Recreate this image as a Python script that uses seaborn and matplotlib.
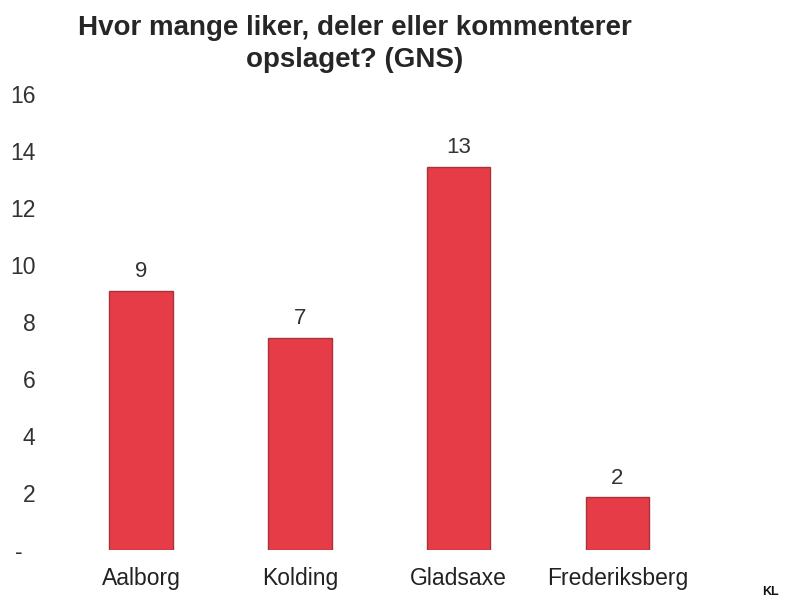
import matplotlib
matplotlib.use("Agg")
import matplotlib.pyplot as plt
import seaborn as sns
import pandas as pd

categories = ["Aalborg", "Kolding", "Gladsaxe", "Frederiksberg"]
values = [9.1, 7.45, 13.45, 1.85]
value_labels = ["9", "7", "13", "2"]
y_ticks = [0, 2, 4, 6, 8, 10, 12, 14, 16]
y_tick_labels = ["-  ", "2", "4", "6", "8", "10", "12", "14", "16"]
title = "Hvor mange liker, deler eller kommenterer\nopslaget? (GNS)"

sns.set_theme(style="white")
plt.rcParams["font.family"] = ["Liberation Sans", "DejaVu Sans"]

df = pd.DataFrame({"kommune": categories, "gns": values})

fig = plt.figure(figsize=(8.01, 6.11), dpi=100)
ax = fig.add_axes([0.077, 0.100, 0.793, 0.746])

sns.barplot(data=df, x="kommune", y="gns", ax=ax, color="#E63C47",
            width=0.40, edgecolor="#A9333B", linewidth=1.0, saturation=1)

for p, lab in zip(ax.patches, value_labels):
    ax.annotate(lab, (p.get_x() + p.get_width() / 2, p.get_height()),
                xytext=(0, 6), textcoords="offset points",
                ha="center", va="bottom", fontsize=16, color="#333333")

ax.set_ylim(0, 16)
ax.set_xlim(-0.5, 3.5)
ax.set_yticks(y_ticks)
ax.set_yticklabels(y_tick_labels)
ax.set_xlabel("")
ax.set_ylabel("")
for s in ax.spines.values():
    s.set_visible(False)
ax.tick_params(axis="y", length=0, pad=19, labelsize=16.5, labelcolor="#333333")
ax.tick_params(axis="x", length=0, pad=12, labelsize=16.5, labelcolor="#222222")
ax.grid(False)

fig.text(0.443, 0.928, title, ha="center", va="center", fontsize=20,
         fontweight="bold", color="#262626", linespacing=1.32)

fig.text(0.962, 0.022, "KL", ha="center", va="bottom", fontsize=9,
         fontweight="bold", color="#111111")

fig.savefig("out.png", dpi=100)
